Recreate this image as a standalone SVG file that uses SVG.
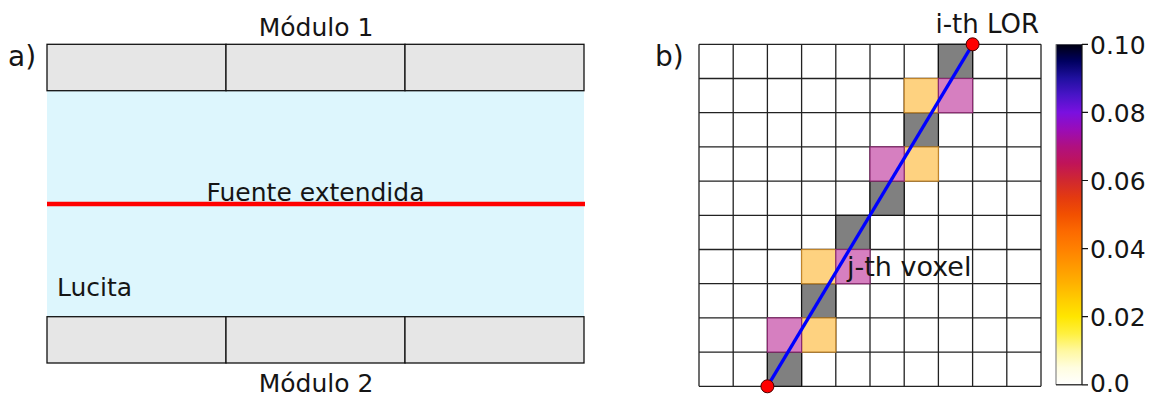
<svg xmlns="http://www.w3.org/2000/svg" width="1157" height="396" viewBox="0 0 1157 396">
<style>
text{font-family:"DejaVu Sans","Liberation Sans",sans-serif;fill:#151515}
.lbl{font-size:25px}
.pl{font-size:28px}
.mod{fill:#e6e6e6;stroke:#111;stroke-width:1.3}
.gray{fill:#808080;stroke:#111;stroke-width:1.2}
.org{fill:#fed280;stroke:#c0842a;stroke-width:1.2}
.mag{fill:#d67fc0;stroke:#8a2a70;stroke-width:1.2}
.tick{stroke:#111;stroke-width:1.2}
</style>
<defs>
<linearGradient id="cmap" x1="0" y1="1" x2="0" y2="0">
<stop offset="0" stop-color="#ffffff"/>
<stop offset="0.05" stop-color="#fffde0"/>
<stop offset="0.1" stop-color="#fff8a0"/>
<stop offset="0.15" stop-color="#fff040"/>
<stop offset="0.2" stop-color="#ffe600"/>
<stop offset="0.25" stop-color="#ffcc00"/>
<stop offset="0.3" stop-color="#ffb000"/>
<stop offset="0.35" stop-color="#ff9800"/>
<stop offset="0.4" stop-color="#ff8000"/>
<stop offset="0.45" stop-color="#fc6a00"/>
<stop offset="0.5" stop-color="#f25000"/>
<stop offset="0.55" stop-color="#e43a10"/>
<stop offset="0.6" stop-color="#d02830"/>
<stop offset="0.65" stop-color="#c01458"/>
<stop offset="0.7" stop-color="#b01080"/>
<stop offset="0.75" stop-color="#9a0cb8"/>
<stop offset="0.8" stop-color="#7a10e0"/>
<stop offset="0.85" stop-color="#4a14c8"/>
<stop offset="0.9" stop-color="#2010a0"/>
<stop offset="0.95" stop-color="#000060"/>
<stop offset="1" stop-color="#000010"/>
</linearGradient>
</defs>
<rect width="1157" height="396" fill="#ffffff"/>

<g id="panel-a">
<text class="pl" x="8" y="66">a)</text>
<g id="lucita">
<rect x="47" y="90.7" width="537" height="226" fill="#ddf6fd"/>
<text class="lbl" x="57" y="296">Lucita</text>
</g>
<g id="modulo1">
<rect class="mod" x="47" y="44.3" width="179" height="46.4"/>
<rect class="mod" x="226" y="44.3" width="179" height="46.4"/>
<rect class="mod" x="405" y="44.3" width="179" height="46.4"/>
<text class="lbl" x="316" y="35.7" text-anchor="middle">Módulo 1</text>
</g>
<g id="modulo2">
<rect class="mod" x="47" y="316.7" width="179" height="46.3"/>
<rect class="mod" x="226" y="316.7" width="179" height="46.3"/>
<rect class="mod" x="405" y="316.7" width="179" height="46.3"/>
<text class="lbl" x="316" y="391.5" text-anchor="middle">Módulo 2</text>
</g>
<g id="fuente">
<text class="lbl" x="315.5" y="200.7" text-anchor="middle">Fuente extendida</text>
<line x1="47" y1="204" x2="585" y2="204" stroke="#ff0000" stroke-width="4.5"/>
</g>
</g>

<g id="panel-b">
<text class="pl" x="655" y="66">b)</text>
<g id="grid">
<rect x="699" y="44.3" width="342" height="342" fill="#ffffff"/>
<path fill="none" stroke="#222" stroke-width="1.3" d="M699 44.3V386.3M733.2 44.3V386.3M767.4 44.3V386.3M801.6 44.3V386.3M835.8 44.3V386.3M870 44.3V386.3M904.2 44.3V386.3M938.4 44.3V386.3M972.6 44.3V386.3M1006.8 44.3V386.3M1041 44.3V386.3M699 44.3H1041M699 78.5H1041M699 112.7H1041M699 146.9H1041M699 181.1H1041M699 215.3H1041M699 249.5H1041M699 283.7H1041M699 317.9H1041M699 352.1H1041M699 386.3H1041"/>
</g>
<g id="voxels">
<rect class="gray" x="938.4" y="44.3" width="34.2" height="34.2"/>
<rect class="gray" x="904.2" y="112.7" width="34.2" height="34.2"/>
<rect class="gray" x="870" y="181.1" width="34.2" height="34.2"/>
<rect class="gray" x="835.8" y="215.3" width="34.2" height="34.2"/>
<rect class="gray" x="801.6" y="283.7" width="34.2" height="34.2"/>
<rect class="gray" x="767.4" y="352.1" width="34.2" height="34.2"/>
<rect class="org" x="904.2" y="78.5" width="34.2" height="34.2"/>
<rect class="org" x="904.2" y="146.9" width="34.2" height="34.2"/>
<rect class="org" x="801.6" y="249.5" width="34.2" height="34.2"/>
<rect class="org" x="801.6" y="317.9" width="34.2" height="34.2"/>
<rect class="mag" x="938.4" y="78.5" width="34.2" height="34.2"/>
<rect class="mag" x="870" y="146.9" width="34.2" height="34.2"/>
<rect class="mag" x="835.8" y="249.5" width="34.2" height="34.2"/>
<rect class="mag" x="767.4" y="317.9" width="34.2" height="34.2"/>
</g>
<g id="lor">
<line x1="767.4" y1="386.3" x2="972.6" y2="44.3" stroke="#0000ff" stroke-width="3.3"/>
<circle cx="767.4" cy="386.3" r="6.5" fill="#ff0000" stroke="#4a0000" stroke-width="1"/>
<circle cx="972.6" cy="44.3" r="6.5" fill="#ff0000" stroke="#4a0000" stroke-width="1"/>
<text class="lbl" x="935.5" y="33" style="font-size:26px">i-th LOR</text>
</g>
<text class="lbl" x="847" y="276" style="font-size:27px">j-th voxel</text>
<g id="colorbar">
<rect x="1056" y="44.3" width="26" height="340.5" fill="url(#cmap)"/>
<line x1="1056" y1="44.3" x2="1056" y2="384.8" stroke="#888" stroke-width="1.2"/>
<line x1="1082" y1="44.3" x2="1082" y2="384.8" stroke="#111" stroke-width="1.2"/>
<line x1="1056" y1="384.8" x2="1082" y2="384.8" stroke="#111" stroke-width="1.2"/>
<path class="tick" d="M1082 44.3H1088M1082 112.4H1088M1082 180.5H1088M1082 248.6H1088M1082 316.7H1088M1082 384.8H1088"/>
<text class="lbl" x="1090" y="54">0.10</text>
<text class="lbl" x="1090" y="122">0.08</text>
<text class="lbl" x="1090" y="190">0.06</text>
<text class="lbl" x="1090" y="258">0.04</text>
<text class="lbl" x="1090" y="326">0.02</text>
<text class="lbl" x="1090" y="391.5">0.0</text>
</g>
</g>
</svg>
